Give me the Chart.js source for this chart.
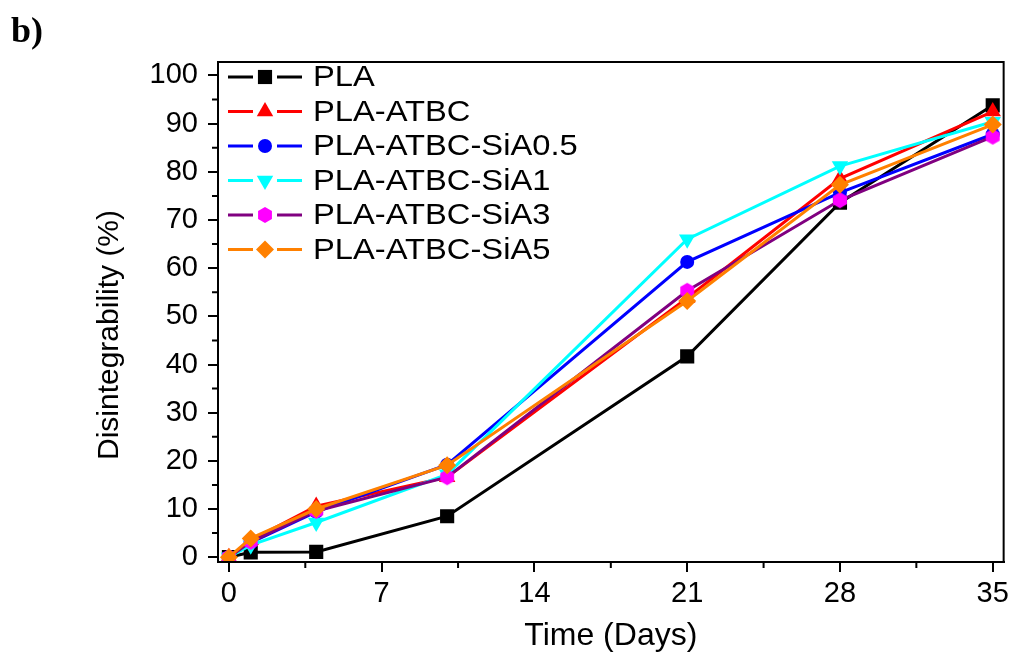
<!DOCTYPE html>
<html>
<head>
<meta charset="utf-8">
<script src="https://cdn.jsdelivr.net/npm/chart.js@4/dist/chart.umd.min.js"></script>
<style>
  html, body { margin: 0; padding: 0; background: #fff; }
  #wrap { width: 1014px; height: 657px; }
</style>
</head>
<body>
<div id="wrap"><canvas id="chart" width="1014" height="657"></canvas></div>
<script>
// values (days vs % disintegrability)
const days = [0, 1, 4, 10, 21, 28, 35];
const pla      = [0, 1.0, 1.1, 8.5, 41.7, 73.6, 93.8];
const plaAtbc  = [0, 3.5, 10.6, 16.6, 53.8, 78.6, 92.5];
const siA05    = [0, 3.0, 9.4, 19.2, 61.3, 75.7, 87.8];
const siA1     = [0, 2.5, 7.2, 17.2, 66.0, 81.2, 90.4];
const siA3     = [0, 3.2, 9.6, 16.6, 55.3, 74.1, 87.3];
const siA5     = [0, 3.9, 10.0, 19.1, 53.2, 77.3, 89.8];

const seriesNames = ["PLA", "PLA-ATBC", "PLA-ATBC-SiA0.5", "PLA-ATBC-SiA1", "PLA-ATBC-SiA3", "PLA-ATBC-SiA5"];

const xMajor = [0, 7, 14, 21, 28, 35];
const xMinor = [3.5, 10.5, 17.5, 24.5, 31.5];
const yMajor = [0, 10, 20, 30, 40, 50, 60, 70, 80, 90, 100];
const yMinor = [5, 15, 25, 35, 45, 55, 65, 75, 85, 95];

const FONT = "'Liberation Sans', Arial, sans-serif";

// hexagon marker for SiA3 (no built-in hexagon in Chart.js)
function makeHexagon(r, color) {
    const c = document.createElement("canvas");
    c.width = c.height = Math.ceil(r * 2 + 2);
    const g = c.getContext("2d");
    const cx = c.width / 2, cy = c.height / 2;
    g.beginPath();
    for (let i = 0; i < 6; i++) {
        const a = Math.PI / 6 + i * Math.PI / 3;
        g.lineTo(cx + r * Math.cos(a), cy + r * Math.sin(a));
    }
    g.closePath();
    g.fillStyle = color;
    g.fill();
    return c;
}
const hexagon = makeHexagon(8, "#ff00ff");

const styles = [
    { line: "#000000", fill: "#000000", point: "rect", radius: 10, rot: 0 },
    { line: "#ff0000", fill: "#ff0000", point: "triangle", radius: 9.5, rot: 0 },
    { line: "#0000ff", fill: "#0000ff", point: "circle", radius: 7, rot: 0 },
    { line: "#00ffff", fill: "#00ffff", point: "triangle", radius: 9.5, rot: 180 },
    { line: "#800080", fill: "#ff00ff", point: hexagon, radius: 8, rot: 0 },
    { line: "#ff8000", fill: "#ff8000", point: "rectRot", radius: 9, rot: 0 }
];
const seriesValues = [pla, plaAtbc, siA05, siA1, siA3, siA5];

const datasets = seriesValues.map((vals, i) => ({
    label: seriesNames[i],
    data: vals.map((v, j) => ({ x: days[j], y: v })),
    borderColor: styles[i].line,
    backgroundColor: styles[i].fill,
    borderWidth: 3,
    pointStyle: styles[i].point,
    pointRadius: styles[i].radius,
    pointRotation: styles[i].rot,
    pointBorderWidth: 0,
    pointBackgroundColor: styles[i].fill,
    tension: 0,
    order: seriesValues.length - i
}));

function drawMarker(ctx, s, x, y) {
    ctx.fillStyle = s.fill;
    if (Chart.helpers && Chart.helpers.drawPoint) {
        Chart.helpers.drawPoint(ctx, {
            pointStyle: s.point, radius: s.radius, rotation: s.rot, borderWidth: 0
        }, x, y);
        return;
    }
    ctx.beginPath();
    ctx.arc(x, y, s.radius * 0.8, 0, Math.PI * 2);
    ctx.fill();
}

const extras = {
    id: "extras",
    afterDraw(chart) {
        const ctx = chart.ctx;
        const a = chart.chartArea;
        const xs = chart.scales.x, ys = chart.scales.y;
        ctx.save();

        // frame
        ctx.strokeStyle = "#000";
        ctx.lineWidth = 2;
        ctx.strokeRect(a.left, a.top, a.right - a.left, a.bottom - a.top);

        // minor ticks
        ctx.beginPath();
        xMinor.forEach(v => {
            const px = xs.getPixelForValue(v);
            ctx.moveTo(px, a.bottom);
            ctx.lineTo(px, a.bottom + 6);
        });
        yMinor.forEach(v => {
            const py = ys.getPixelForValue(v);
            ctx.moveTo(a.left, py);
            ctx.lineTo(a.left - 6, py);
        });
        ctx.stroke();

        // y title
        ctx.fillStyle = "#000";
        ctx.font = "30px " + FONT;
        ctx.textAlign = "center";
        ctx.textBaseline = "middle";
        ctx.translate(110, 335);
        ctx.rotate(-Math.PI / 2);
        ctx.fillText("Disintegrability (%)", 0, 0);
        ctx.setTransform(1, 0, 0, 1, 0, 0);

        // panel letter
        ctx.font = "bold 36px 'Liberation Serif', 'Times New Roman', serif";
        ctx.textAlign = "left";
        ctx.textBaseline = "alphabetic";
        ctx.fillText("b)", 11, 42);

        // legend: line - marker - line, text
        seriesNames.forEach((name, i) => {
            const s = styles[i];
            const y = 77 + i * 34.5;
            ctx.strokeStyle = s.line;
            ctx.lineWidth = 3;
            ctx.beginPath();
            ctx.moveTo(228, y); ctx.lineTo(253, y);
            ctx.moveTo(277, y); ctx.lineTo(302, y);
            ctx.stroke();
            drawMarker(ctx, s, 265, y);
            ctx.save();
            ctx.fillStyle = "#000";
            ctx.font = "30px " + FONT;
            ctx.textBaseline = "middle";
            ctx.translate(313, y + 1);
            ctx.scale(1.09, 1);
            ctx.fillText(name, 0, 0);
            ctx.restore();
        });
        ctx.restore();
    }
};

new Chart(document.getElementById("chart"), {
    type: "line",
    data: { datasets: datasets },
    options: {
        responsive: false,
        animation: false,
        devicePixelRatio: 1,
        layout: { padding: { left: 0, right: 8, top: 62, bottom: 0 } },
        plugins: {
            legend: { display: false },
            tooltip: { enabled: false }
        },
        scales: {
            x: {
                type: "linear",
                min: -0.5,
                max: 35.5,
                afterBuildTicks: s => { s.ticks = xMajor.map(v => ({ value: v })); },
                afterFit: s => { s.height = 95; },
                grid: { drawOnChartArea: false, drawTicks: true, tickLength: 10, color: "#000", lineWidth: 2 },
                border: { color: "#000", width: 2 },
                ticks: { color: "#000", font: { family: FONT, size: 29 }, padding: 5, maxRotation: 0 },
                title: {
                    display: true, text: "Time (Days)", color: "#000",
                    font: { family: FONT, size: 32 }, padding: { top: 0, bottom: 2 }
                }
            },
            y: {
                min: -1,
                max: 102.8,
                afterBuildTicks: s => { s.ticks = yMajor.map(v => ({ value: v })); },
                afterFit: s => { s.width = 218; },
                grid: { drawOnChartArea: false, drawTicks: true, tickLength: 10, color: "#000", lineWidth: 2 },
                border: { color: "#000", width: 2 },
                ticks: { color: "#000", font: { family: FONT, size: 29 }, padding: 10 }
            }
        }
    },
    plugins: [extras]
});
</script>
</body>
</html>
